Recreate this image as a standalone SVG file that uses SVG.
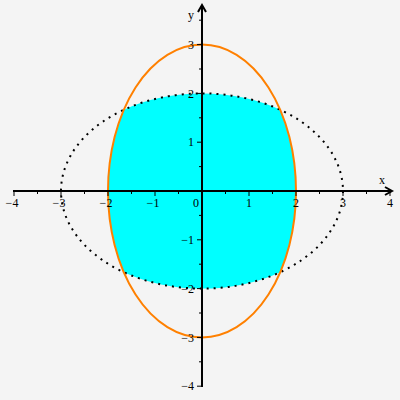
<svg xmlns="http://www.w3.org/2000/svg" width="400" height="400" viewBox="0 0 400 400">
<style>
.lbl{font-family:"Liberation Serif","Times New Roman",serif;font-size:12px;fill:#000}
.ax{stroke:#000;stroke-width:2;fill:none}
.tk{stroke:#000;stroke-width:1}
</style>
<rect width="400" height="400" fill="#f4f4f4"/>
<g id="region">
<path d="M280.2,109.8 A141,97.6 0 0 0 123.8,109.8 A94,146.4 0 0 0 123.8,272.2 A141,97.6 0 0 0 280.2,272.2 A94,146.4 0 0 0 280.2,109.8 Z" fill="#00ffff"/>
</g>
<g id="dotted-ellipse">
<ellipse cx="202" cy="191" rx="141" ry="97.6" fill="none" stroke="#000" stroke-width="2" stroke-dasharray="2 5"/>
</g>
<g id="orange-ellipse">
<ellipse cx="202" cy="191" rx="94" ry="146.4" fill="none" stroke="#ff8000" stroke-width="2"/>
</g>
<g id="axes">
<line class="ax" x1="13" y1="191" x2="392" y2="191"/>
<path class="ax" d="M385,187 L392,191 L385,195" stroke-width="1.5"/>
<line class="ax" x1="202" y1="387" x2="202" y2="5"/>
<path class="ax" d="M198,12 L202,5 L206,12" stroke-width="1.5"/>
<g class="tk">
<line x1="14" y1="191" x2="14" y2="196"/><line x1="61" y1="191" x2="61" y2="196"/><line x1="108" y1="191" x2="108" y2="196"/><line x1="155" y1="191" x2="155" y2="196"/><line x1="249" y1="191" x2="249" y2="196"/><line x1="296" y1="191" x2="296" y2="196"/><line x1="343" y1="191" x2="343" y2="196"/><line x1="390" y1="191" x2="390" y2="196"/>
<line x1="37.5" y1="191" x2="37.5" y2="194"/><line x1="84.5" y1="191" x2="84.5" y2="194"/><line x1="131.5" y1="191" x2="131.5" y2="194"/><line x1="178.5" y1="191" x2="178.5" y2="194"/><line x1="225.5" y1="191" x2="225.5" y2="194"/><line x1="272.5" y1="191" x2="272.5" y2="194"/><line x1="319.5" y1="191" x2="319.5" y2="194"/><line x1="366.5" y1="191" x2="366.5" y2="194"/>
<line x1="197" y1="44.6" x2="202" y2="44.6"/><line x1="197" y1="93.4" x2="202" y2="93.4"/><line x1="197" y1="142.2" x2="202" y2="142.2"/><line x1="197" y1="239.8" x2="202" y2="239.8"/><line x1="197" y1="288.6" x2="202" y2="288.6"/><line x1="197" y1="337.4" x2="202" y2="337.4"/><line x1="197" y1="386.2" x2="202" y2="386.2"/>
<line x1="199" y1="20.2" x2="202" y2="20.2"/><line x1="199" y1="69" x2="202" y2="69"/><line x1="199" y1="117.8" x2="202" y2="117.8"/><line x1="199" y1="166.6" x2="202" y2="166.6"/><line x1="199" y1="215.4" x2="202" y2="215.4"/><line x1="199" y1="264.2" x2="202" y2="264.2"/><line x1="199" y1="313" x2="202" y2="313"/><line x1="199" y1="361.8" x2="202" y2="361.8"/>
</g>
</g>
<g id="labels" class="lbl">
<g text-anchor="middle">
<text x="12" y="207">−4</text><text x="59" y="207">−3</text><text x="106" y="207">−2</text><text x="153" y="207">−1</text>
<text x="249" y="207">1</text><text x="296" y="207">2</text><text x="343" y="207">3</text><text x="390" y="207">4</text>
</g>
<text x="199" y="207" text-anchor="end">0</text>
<g text-anchor="end">
<text x="194" y="49">3</text><text x="194" y="98">2</text><text x="194" y="146">1</text>
<text x="194" y="244">−1</text><text x="194" y="293">−2</text><text x="194" y="342">−3</text><text x="194" y="390">−4</text>
</g>
<text x="382" y="184" text-anchor="middle">x</text>
<text x="191" y="19" text-anchor="middle">y</text>
</g>
</svg>
